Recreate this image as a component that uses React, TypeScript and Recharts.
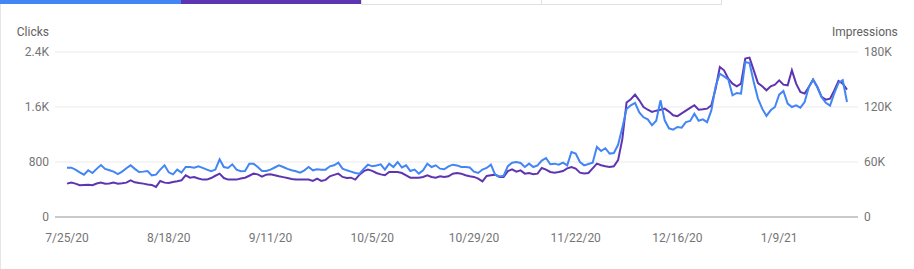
import { LineChart, Line, XAxis, YAxis, CartesianGrid } from "recharts";

// daily clicks, 7/25/20 .. 1/25/21
const clicks = [
  718, 718, 690, 650, 616, 680, 640, 700, 756, 700, 680, 660, 625, 660, 710, 752, 700, 655, 660, 669, 606, 616, 690, 752, 650, 621, 689, 645, 727, 727,
  718, 737, 715, 690, 665, 690, 839, 727, 713, 766, 689, 665, 670, 776, 776, 727, 669, 669, 689, 720, 752, 727, 700, 679, 665, 645, 679, 727, 679, 694, 689,
  689, 737, 752, 790, 703, 679, 660, 640, 631, 700, 761, 737, 750, 766, 689, 776, 727, 800, 720, 752, 669, 689, 631, 679, 776, 727, 752, 703, 694, 737, 761,
  750, 727, 727, 720, 660, 640, 690, 713, 761, 616, 590, 600, 740, 790, 800, 785, 727, 776, 727, 751, 820, 858, 767, 776, 761, 790, 751, 946, 922, 800, 751,
  770, 790, 1019, 960, 1000, 922, 930, 1050, 1300, 1570, 1625, 1660, 1520, 1450, 1420, 1334, 1400, 1697, 1406, 1290, 1270, 1310, 1300, 1380, 1397, 1503, 1400, 1420, 1380, 1550,
  1900, 2085, 2046, 2000, 1770, 1804, 1794, 2255, 2240, 1964, 1722, 1576, 1470, 1552, 1600, 1780, 1833, 1649, 1600, 1625, 1591, 1673, 1891, 1998, 1891, 1746, 1660, 1620, 1800, 1950, 1990, 1673,
];

const impressions = [
  36400, 37500, 36400, 34600, 35000, 35300, 34600, 36500, 37500, 36400, 36500, 37500, 36400, 36800, 37500, 40000, 37800, 37000, 36400, 35500, 35000, 32800, 39300, 37500, 37100, 38200, 39000, 40000, 45500, 42900,
  43500, 42000, 40800, 40800, 42500, 45000, 47300, 42500, 40800, 40800, 40800, 41900, 42900, 45000, 47300, 46500, 44000, 46200, 46600, 45500, 44400, 43500, 42500, 41500, 40800, 40800, 40800, 40800, 39300, 41900, 39300,
  40500, 44400, 46000, 47300, 43700, 42500, 42900, 40800, 46200, 50000, 51700, 50300, 48000, 46500, 45500, 49100, 49100, 49100, 48000, 45500, 42900, 42900, 42900, 43700, 45500, 43700, 42900, 44400, 43700, 44400, 47300,
  48000, 47300, 45500, 44400, 43700, 41900, 38900, 44800, 45500, 46200, 43700, 43700, 50000, 52000, 49500, 50900, 47300, 48000, 46600, 47300, 53500, 51700, 49100, 48400, 49000, 50200, 53000, 54600, 52800, 48400, 47500,
  48000, 53000, 58200, 56400, 55300, 54600, 55300, 62000, 85000, 125000, 128500, 133500, 127300, 120000, 117000, 114600, 116000, 117100, 118200, 115000, 111000, 110000, 113000, 116000, 119000, 121900, 117100, 117500, 118200, 122000,
  140000, 163700, 160000, 150900, 145500, 142600, 145500, 172800, 173900, 160000, 146000, 142600, 138200, 142600, 144400, 149100, 144400, 143700, 160000, 145500, 136400, 134600, 141800, 149900, 141800, 131000, 128000, 129100, 138000, 148400, 145500, 138900,
];

const xTicks = ["7/25/20", "8/18/20", "9/11/20", "10/5/20", "10/29/20", "11/22/20", "12/16/20", "1/9/21"];
const clickTicks = [0, 800, 1600, 2400];
const impressionTicks = [0, 60000, 120000, 180000];

const startDay = new Date(2020, 6, 25);
const dates = clicks.map((_, i) => {
  const d = new Date(startDay.getFullYear(), startDay.getMonth(), startDay.getDate() + i);
  return `${d.getMonth() + 1}/${d.getDate()}/${String(d.getFullYear()).slice(2)}`;
});

const data = dates.map((date, i) => ({ date, clicks: clicks[i], impressions: impressions[i] }));

const fmtK = (v: number) => (v >= 1000 ? `${+(v / 1000).toFixed(1)}K` : `${v}`);

const tickStyle = { fill: "#757575", fontSize: 12, fontFamily: "Roboto" };

export default function App() {
  return (
    <div style={{ position: "absolute", left: 0, top: 0, width: 914, height: 269, background: "#fff", fontFamily: "Roboto" }}>
      <div style={{ position: "absolute", left: 0, top: 0, width: 181, height: 4, background: "#4285f4" }} />
      <div style={{ position: "absolute", left: 181, top: 0, width: 180, height: 4, background: "#5e35b1" }} />
      <div style={{ position: "absolute", left: 361, top: -1, width: 179, height: 4, border: "1px solid #e0e0e0" }} />
      <div style={{ position: "absolute", left: 541, top: -1, width: 179, height: 4, border: "1px solid #e0e0e0" }} />
      <div style={{ position: "absolute", left: 0, top: 4, width: 1, height: 265, background: "#e6e6e6" }} />
      <div style={{ position: "absolute", right: 865, top: 25, fontSize: 12, color: "#616161", whiteSpace: "nowrap" }}>Clicks</div>
      <div style={{ position: "absolute", left: 832, top: 25, fontSize: 12, color: "#616161", whiteSpace: "nowrap" }}>Impressions</div>
      <LineChart width={914} height={269} data={data} margin={{ top: 52, right: 0, bottom: 0, left: 0 }}>
        <CartesianGrid yAxisId="left" vertical={false} stroke="#ebebeb" />
        <XAxis
          dataKey="date"
          ticks={xTicks}
          interval={0}
          height={52}
          tickLine={false}
          tickSize={0}
          tickMargin={16}
          axisLine={{ stroke: "#9e9e9e" }}
          padding={{ left: 12, right: 11 }}
          tick={tickStyle}
        />
        <YAxis
          yAxisId="left"
          width={55}
          domain={[0, 2400]}
          ticks={clickTicks}
          tickFormatter={fmtK}
          axisLine={false}
          tickLine={false}
          tickSize={0}
          tickMargin={6}
          tick={tickStyle}
        />
        <YAxis
          yAxisId="right"
          orientation="right"
          width={56}
          domain={[0, 180000]}
          ticks={impressionTicks}
          tickFormatter={fmtK}
          axisLine={false}
          tickLine={false}
          tickSize={0}
          tickMargin={6}
          tick={{ ...tickStyle, textAnchor: "start" }}
        />
        <Line yAxisId="right" type="linear" dataKey="impressions" stroke="#5e35b1" strokeWidth={2} dot={false} isAnimationActive={false} />
        <Line yAxisId="left" type="linear" dataKey="clicks" stroke="#4285f4" strokeWidth={2} dot={false} isAnimationActive={false} />
      </LineChart>
    </div>
  );
}
